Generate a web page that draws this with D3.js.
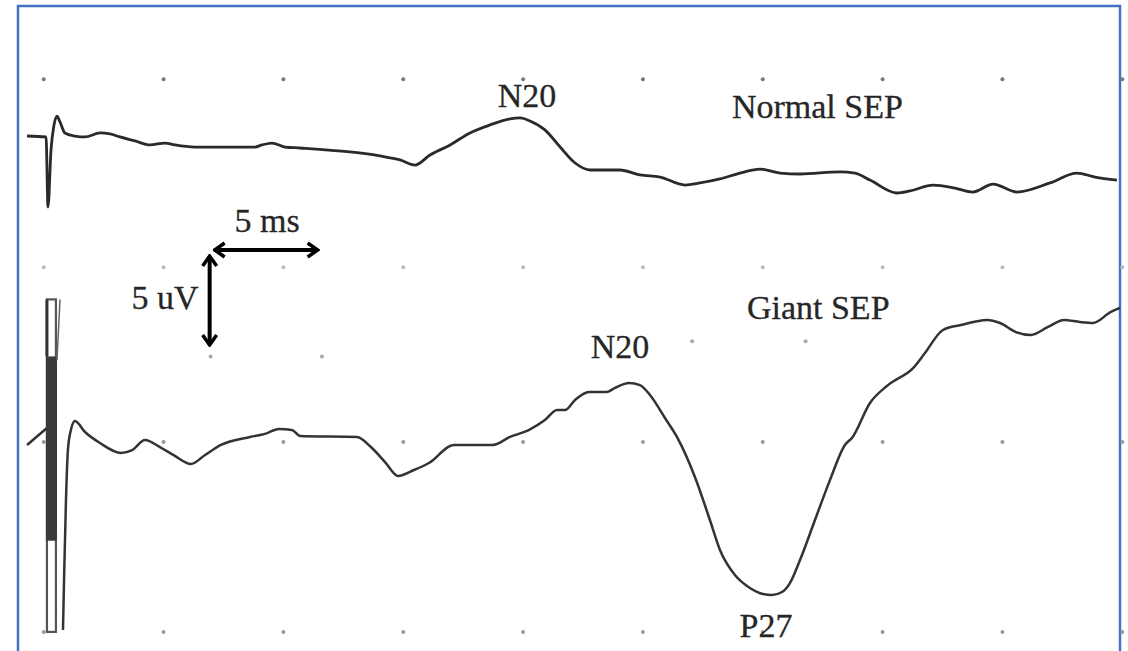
<!DOCTYPE html>
<html>
<head>
<meta charset="utf-8">
<title>Normal SEP vs Giant SEP</title>
<script src="https://cdn.jsdelivr.net/npm/d3@7"></script>
<style>
	body{
		margin:0;
		background-color:#fff;
	}
	svg{
		display:block;
	}
	.lbl{
		font-family:"Liberation Serif","Times New Roman",serif;
		font-size:34px;
		fill:#262626;
		stroke:#262626;
		stroke-width:0.3px;
	}
</style>
</head>
<body>
<div id="chart"></div>
<script>
// traces: [time in ms after stimulus, amplitude in uV] (up = positive)
var normalSEP = [
	[-0.98,0.21],[-0.09,0.16],[0,-3.53],[0.14,-0.53],[0.28,0.79],[0.42,1.26],[0.56,0.95],
	[0.79,0.37],[1.26,0.21],[1.73,0.16],[2.43,0.37],[2.90,0.32],[3.36,0.16],[4.07,-0.05],
	[4.77,-0.26],[5.47,-0.16],[5.93,-0.26],[6.87,-0.37],[9.67,-0.37],[10.0,-0.26],
	[10.47,-0.16],[11.07,-0.37],[11.78,-0.42],[14.11,-0.63],[15.51,-0.84],[16.45,-1.05],
	[17.15,-1.32],[17.85,-0.79],[18.79,-0.26],[19.72,0.37],[20.65,0.79],[21.59,1.11],
	[22.06,1.16],[22.52,1.0],[23.22,0.53],[23.93,-0.37],[24.63,-1.21],[25.33,-1.58],
	[26.73,-1.58],[27.66,-1.84],[28.60,-1.95],[29.77,-2.37],[30.47,-2.26],[31.40,-2.05],
	[32.34,-1.74],[33.27,-1.53],[34.21,-1.74],[35.14,-1.79],[37.01,-1.68],[37.71,-1.74],
	[38.41,-2.11],[39.67,-2.79],[40.28,-2.68],[41.36,-2.37],[42.38,-2.53],[43.22,-2.74],
	[44.16,-2.32],[45.28,-2.74],[46.82,-2.26],[48.08,-1.74],[48.93,-1.95],[49.95,-2.11]
];
var giantPre = [[-0.98,-0.26],[-0.05,0.63]];
var giantPost = [
	[0.70,-10.0],[0.75,-7.37],[0.84,-3.16],[0.93,-0.53],[1.07,0.53],[1.26,1.0],[1.73,0.42],
	[2.43,-0.16],[3.41,-0.68],[3.93,-0.53],[4.53,0],[5.23,-0.37],[5.93,-0.84],[6.68,-1.26],
	[7.34,-0.79],[8.08,-0.26],[9.44,0.16],[10.14,0.32],[10.79,0.58],[11.40,0.53],[11.78,0.21],
	[14.44,0.16],[15.09,-0.37],[15.75,-1.16],[16.36,-1.89],[17.10,-1.58],[17.80,-1.21],
	[18.97,-0.26],[20.79,-0.26],[21.59,0.16],[22.48,0.53],[23.22,1.05],[23.79,1.58],
	[24.16,1.58],[24.63,2.11],[25.28,2.53],[26.12,2.53],[26.50,2.74],[27.15,3.0],[27.66,2.89],
	[28.13,2.37],[28.83,1.16],[29.39,0.16],[30.23,-1.95],[30.93,-4.21],[31.40,-5.79],
	[32.10,-7.11],[32.80,-7.79],[33.41,-8.11],[33.83,-8.16],[34.30,-8.0],[34.67,-7.53],
	[35.14,-6.32],[35.84,-4.21],[36.54,-2.11],[37.24,-0.26],[37.57,0.11],[38.41,1.95],
	[39.25,2.89],[40.47,3.84],[40.98,4.58],[41.82,5.79],[42.66,6.05],[43.88,6.32],[44.49,6.16],
	[45.23,5.68],[45.93,5.53],[46.73,5.95],[47.48,6.32],[48.22,6.21],[48.83,6.16],[49.67,6.74],
	[50.09,6.95]
];
// stimulus artifact of the giant recording: [t0, t1, vTop, vBottom]
var artifactBox = [-0.05, 0.37, 7.4, -10.1];
var artifactCore = [-0.05, 0.37, 4.4, -5.3];
var artifactTail = [0.56, 7.4, 4.2];
// paper grid dots
var gridTimes = [-0.2, 5.4, 11.0, 16.6, 22.2, 27.8, 33.4, 39.0, 44.6, 50.2];
var gridRowsTop = [3.2, -6.7];
var gridRowsBottom = [-0.1, -10.1];
var gridExtra = [[7.6,4.4],[12.8,4.4],[30.1,5.2],[35.4,5.2]];
// calibration
var calTime = 5, calAmp = 5;
var calOrigin = [7.6, 10.0];
var peaks = {n20Normal:[22.06,1.16], n20Giant:[27.15,3.0], p27Giant:[33.83,-8.16]};

var W = 1128, H = 651;
var svg = d3.select('#chart').append('svg').attr('width', W).attr('height', H);

var x = d3.scaleLinear().domain([0, 50]).range([48, 1118]);
var yTop = d3.scaleLinear().domain([-5, 5]).range([235, 45]);
var yBot = d3.scaleLinear().domain([-10, 10]).range([630, 250]);

// frame
svg.append('rect')
	.attr('x', 18).attr('y', 6).attr('width', 1102).attr('height', 700)
	.attr('fill', 'none').attr('stroke', '#4472c4').attr('stroke-width', 2.5);

// grid dots
var dots = [];
gridTimes.forEach(function(t){
	dots.push([x(t), yTop(gridRowsTop[0]), '#777']);
	dots.push([x(t), yTop(gridRowsTop[1]), '#bbb']);
	gridRowsBottom.forEach(function(v){ dots.push([x(t), yBot(v), '#999']); });
});
gridExtra.forEach(function(d){ dots.push([x(d[0]), yBot(d[1]), '#aaa']); });
svg.selectAll('circle.dot').data(dots).enter().append('circle')
	.attr('class', 'dot')
	.attr('cx', function(d){ return d[0]; })
	.attr('cy', function(d){ return d[1]; })
	.attr('r', 2)
	.attr('fill', function(d){ return d[2]; });

// artifact
svg.append('rect')
	.attr('x', x(artifactBox[0])).attr('y', yBot(artifactBox[2]))
	.attr('width', x(artifactBox[1]) - x(artifactBox[0]))
	.attr('height', yBot(artifactBox[3]) - yBot(artifactBox[2]))
	.attr('fill', '#fff').attr('stroke', '#555').attr('stroke-width', 2.2);
svg.append('rect')
	.attr('x', x(artifactCore[0]) - 1).attr('y', yBot(artifactCore[2]))
	.attr('width', x(artifactCore[1]) - x(artifactCore[0]) + 2)
	.attr('height', yBot(artifactCore[3]) - yBot(artifactCore[2]))
	.attr('fill', '#3a3a3a');
svg.append('line')
	.attr('x1', x(artifactBox[0])).attr('x2', x(artifactBox[0]))
	.attr('y1', yBot(artifactBox[2])).attr('y2', yBot(artifactCore[2]))
	.attr('stroke', '#333').attr('stroke-width', 3);
svg.append('line')
	.attr('x1', x(artifactTail[0])).attr('x2', x(artifactTail[0]) - 3)
	.attr('y1', yBot(artifactTail[1])).attr('y2', yBot(artifactTail[2]))
	.attr('stroke', '#666').attr('stroke-width', 1.5);

// traces
var lineTop = d3.line().x(function(d){ return x(d[0]); }).y(function(d){ return yTop(d[1]); }).curve(d3.curveMonotoneX);
var lineBot = d3.line().x(function(d){ return x(d[0]); }).y(function(d){ return yBot(d[1]); }).curve(d3.curveMonotoneX);

svg.append('path').datum(normalSEP).attr('d', lineTop)
	.attr('fill', 'none').attr('stroke', '#2a2a2a').attr('stroke-width', 2.8).attr('stroke-linejoin', 'round');
svg.append('path').datum(giantPre).attr('d', lineBot)
	.attr('fill', 'none').attr('stroke', '#333').attr('stroke-width', 2.5);
svg.append('path').datum(giantPost).attr('d', lineBot)
	.attr('fill', 'none').attr('stroke', '#333').attr('stroke-width', 2.5).attr('stroke-linejoin', 'round');

// calibration arrows
var defs = svg.append('defs');
defs.append('marker')
	.attr('id', 'head').attr('viewBox', '0 0 14 18')
	.attr('refX', 12).attr('refY', 9)
	.attr('markerWidth', 14).attr('markerHeight', 18)
	.attr('markerUnits', 'userSpaceOnUse')
	.attr('orient', 'auto-start-reverse')
	.append('path').attr('d', 'M2,2 L12,9 L2,16')
	.attr('fill', 'none').attr('stroke', '#000').attr('stroke-width', 3.5);

var cx0 = x(calOrigin[0]), cy0 = yBot(calOrigin[1]);
svg.append('line')
	.attr('x1', cx0 + 4).attr('y1', cy0)
	.attr('x2', x(calOrigin[0] + calTime)).attr('y2', cy0)
	.attr('stroke', '#000').attr('stroke-width', 4)
	.attr('marker-start', 'url(#head)').attr('marker-end', 'url(#head)');
svg.append('line')
	.attr('x1', cx0 - 1).attr('y1', cy0 + 6)
	.attr('x2', cx0 - 1).attr('y2', yBot(calOrigin[1] - calAmp))
	.attr('stroke', '#000').attr('stroke-width', 4)
	.attr('marker-start', 'url(#head)').attr('marker-end', 'url(#head)');

svg.append('text').attr('class', 'lbl')
	.attr('x', x(calOrigin[0] + calTime / 2) + 3).attr('y', cy0 - 18)
	.attr('text-anchor', 'middle').text('5 ms');
svg.append('text').attr('class', 'lbl')
	.attr('x', cx0 - 12).attr('y', yBot(calOrigin[1] - calAmp / 2) + 11)
	.attr('text-anchor', 'end').text('5 uV');

// labels
svg.append('text').attr('class', 'lbl')
	.attr('x', x(peaks.n20Normal[0]) + 7).attr('y', yTop(peaks.n20Normal[1]) - 11)
	.attr('text-anchor', 'middle').text('N20');
svg.append('text').attr('class', 'lbl')
	.attr('x', x(31.96)).attr('y', yTop(1.16))
	.text('Normal SEP');
svg.append('text').attr('class', 'lbl')
	.attr('x', x(32.66)).attr('y', yBot(6.37))
	.text('Giant SEP');
svg.append('text').attr('class', 'lbl')
	.attr('x', x(peaks.n20Giant[0]) - 9).attr('y', yBot(peaks.n20Giant[1]) - 25)
	.attr('text-anchor', 'middle').text('N20');
svg.append('text').attr('class', 'lbl')
	.attr('x', x(peaks.p27Giant[0]) - 6).attr('y', yBot(peaks.p27Giant[1]) + 42)
	.attr('text-anchor', 'middle').text('P27');
</script>
</body>
</html>
